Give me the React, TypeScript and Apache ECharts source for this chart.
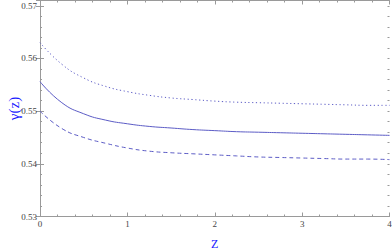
import React, { useEffect, useRef } from "react";
import * as echarts from "echarts";

const zValues = [0, 0.25, 0.5, 0.75, 1, 1.25, 1.5, 1.75, 2, 2.25, 2.5, 2.75, 3, 3.25, 3.5, 3.75, 4];
const solidSeries = [0.5556, 0.5516, 0.5495, 0.5483, 0.5476, 0.5471, 0.5468, 0.5465, 0.5463, 0.5461, 0.5460, 0.5459, 0.5458, 0.5457, 0.5456, 0.5455, 0.5454];
const dashedSeries = [0.5500, 0.5467, 0.5450, 0.5439, 0.5430, 0.5424, 0.5421, 0.5419, 0.5417, 0.5415, 0.5413, 0.5412, 0.5411, 0.5410, 0.5409, 0.5409, 0.5408];
const dottedSeries = [0.5630, 0.5589, 0.5563, 0.5547, 0.5537, 0.5530, 0.5525, 0.5522, 0.5519, 0.5517, 0.5516, 0.5515, 0.5514, 0.5513, 0.5512, 0.5511, 0.5511];
const yTickLabels = ["0.53", "0.54", "0.55", "0.56", "0.57"];

const FRAME = "#9a9a9a";
const LINE = "#5c5cc6";
const SERIF = "Liberation Serif";
const NAME_BLUE = "#1a1aff";

export default function App() {
  const ref = useRef<HTMLDivElement>(null);
  useEffect(() => {
    if (!ref.current) return;
    const chart = echarts.init(ref.current, undefined, { renderer: "svg" });
    const pair = (arr: number[]) => zValues.map((z, i) => [z, arr[i]]);
    const yBase = {
      type: "value" as const,
      min: 0.53,
      max: 0.571,
      splitLine: { show: false },
    };
    const labelFmt = (v: number) => {
      const s = v.toFixed(2);
      return Math.abs(v - parseFloat(s)) < 1e-6 && yTickLabels.includes(s) ? s : "";
    };
    chart.setOption({
      animation: false,
      textStyle: { fontFamily: SERIF },
      grid: {
        left: 40,
        right: 2.5,
        top: 0.5,
        bottom: 34.5,
        containLabel: false,
        outerBoundsMode: "none",
      },
      xAxis: [
        {
          type: "value",
          min: 0,
          max: 4,
          interval: 1,
          position: "bottom",
          name: "Z",
          nameLocation: "middle",
          nameGap: 21,
          nameTextStyle: { color: NAME_BLUE, fontSize: 12, fontFamily: SERIF },
          axisLine: { show: true, lineStyle: { color: FRAME, width: 1 } },
          axisTick: { show: true, inside: true, length: 4, lineStyle: { color: FRAME } },
          minorTick: { show: true, splitNumber: 5, length: 2, lineStyle: { color: FRAME } },
          axisLabel: { color: "#444", fontSize: 9, fontFamily: SERIF, margin: 3 },
          splitLine: { show: false },
          minorSplitLine: { show: false },
        },
        {
          type: "value",
          min: 0,
          max: 4,
          interval: 1,
          position: "top",
          axisLine: { show: true, lineStyle: { color: FRAME, width: 1 } },
          axisTick: { show: true, inside: true, length: 4, lineStyle: { color: FRAME } },
          minorTick: { show: true, splitNumber: 5, length: 2, lineStyle: { color: FRAME } },
          axisLabel: { show: false },
          splitLine: { show: false },
        },
      ],
      yAxis: [
        {
          ...yBase,
          interval: 0.01,
          position: "left",
          name: "γ(z)",
          nameLocation: "middle",
          nameGap: 19,
          nameMoveOverlap: false,
          nameTextStyle: { color: NAME_BLUE, fontSize: 15, fontFamily: SERIF },
          axisLine: { show: true, lineStyle: { color: FRAME, width: 1 } },
          axisTick: { show: true, inside: true, length: 4, lineStyle: { color: FRAME } },
          axisLabel: { color: "#444", fontSize: 9, fontFamily: SERIF, margin: 3, formatter: labelFmt, showMaxLabel: true },
        },
        {
          ...yBase,
          interval: 0.01,
          position: "right",
          axisLine: { show: true, lineStyle: { color: FRAME, width: 1 } },
          axisTick: { show: true, inside: true, length: 4, lineStyle: { color: FRAME } },
          axisLabel: { show: false },
        },
        {
          ...yBase,
          interval: 0.002,
          position: "left",
          axisLine: { show: false },
          axisTick: { show: true, inside: true, length: 2, lineStyle: { color: FRAME } },
          axisLabel: { show: false },
        },
        {
          ...yBase,
          interval: 0.002,
          position: "right",
          axisLine: { show: false },
          axisTick: { show: true, inside: true, length: 2, lineStyle: { color: FRAME } },
          axisLabel: { show: false },
        },
      ],
      series: [
        {
          type: "line",
          data: pair(dottedSeries),
          smooth: 0.5,
          showSymbol: false,
          lineStyle: { color: LINE, width: 1, type: [1.2, 2.6] },
        },
        {
          type: "line",
          data: pair(solidSeries),
          smooth: 0.5,
          showSymbol: false,
          lineStyle: { color: LINE, width: 1, type: "solid" },
        },
        {
          type: "line",
          data: pair(dashedSeries),
          smooth: 0.5,
          showSymbol: false,
          lineStyle: { color: LINE, width: 1, type: [4, 3] },
        },
      ],
    });
    return () => chart.dispose();
  }, []);
  return (
    <div
      ref={ref}
      style={{ position: "fixed", left: 0, top: 0, width: 392, height: 251, background: "#fff" }}
    />
  );
}
